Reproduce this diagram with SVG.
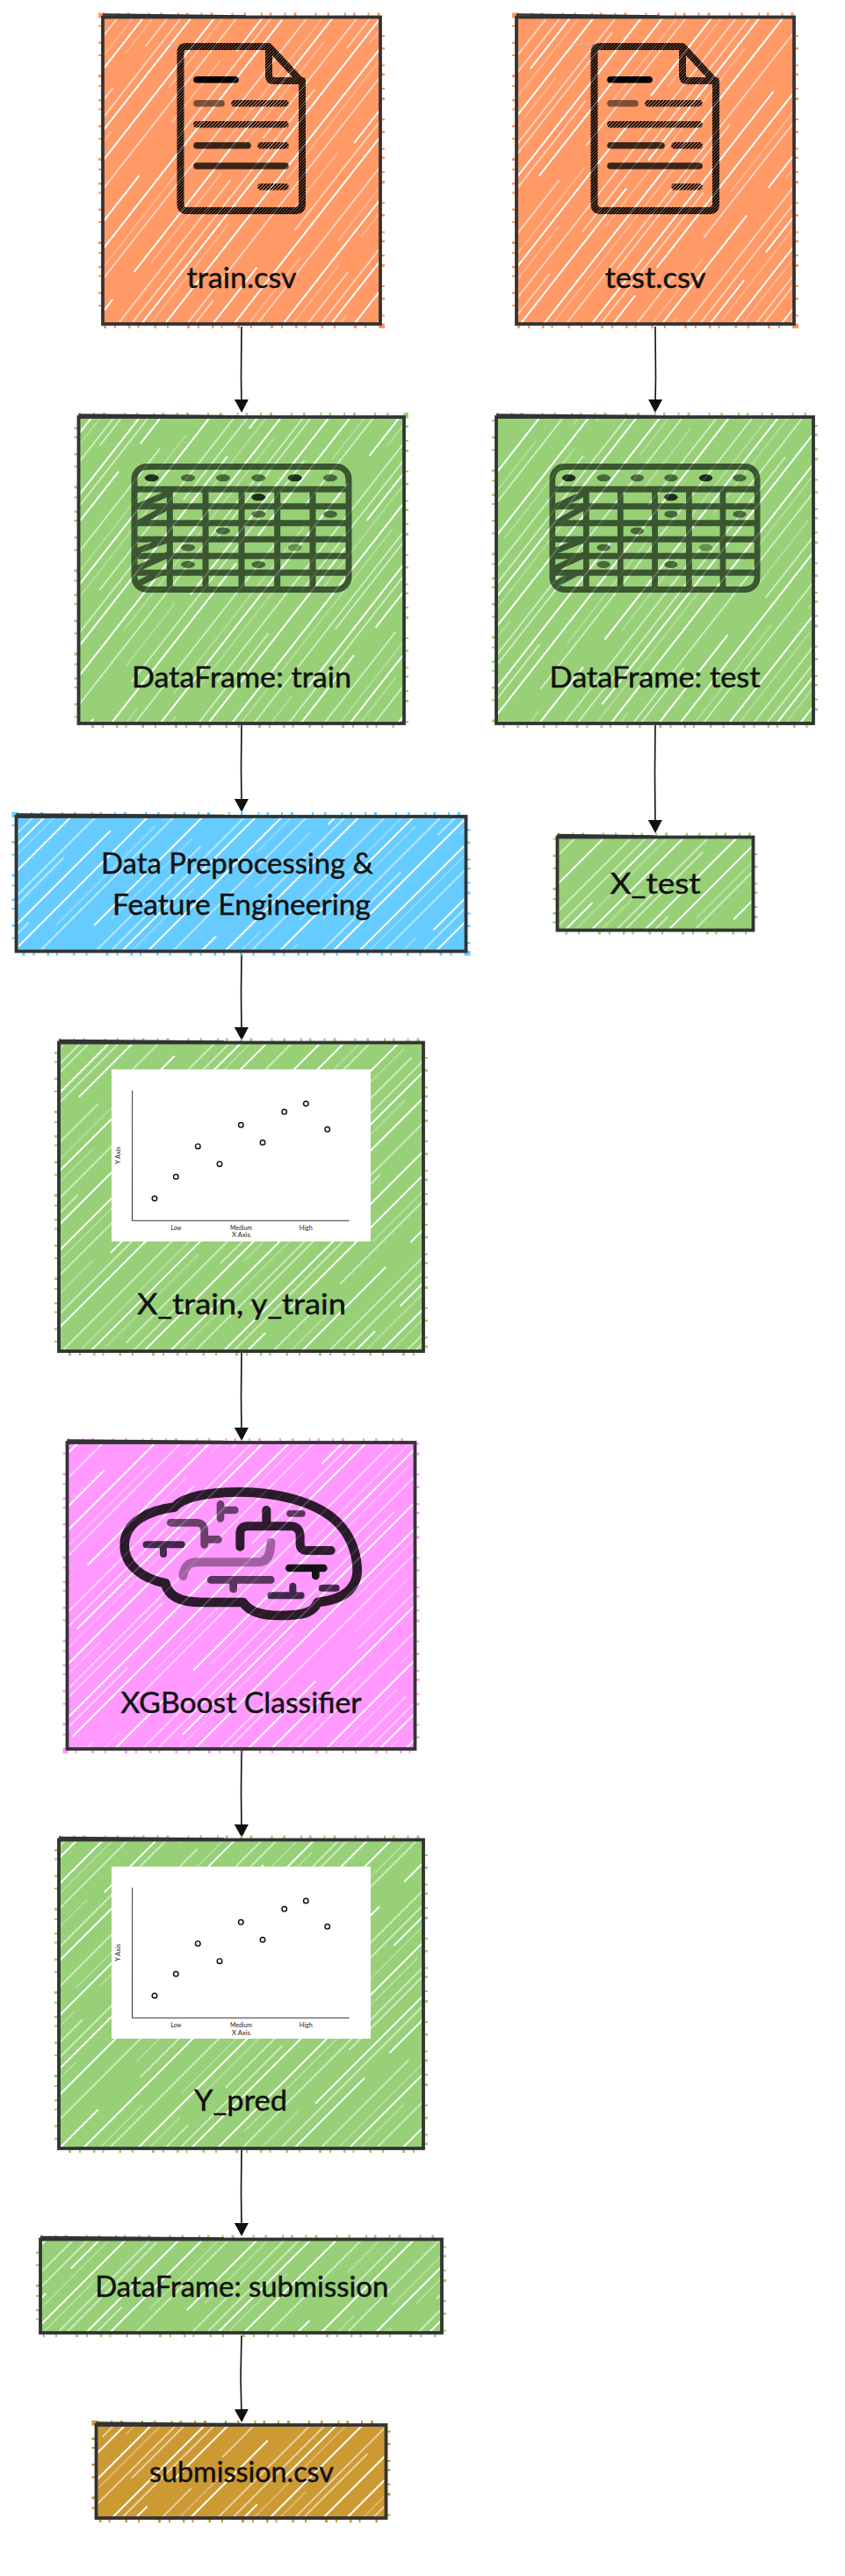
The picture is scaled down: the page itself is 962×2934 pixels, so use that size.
<svg xmlns="http://www.w3.org/2000/svg" width="962" height="2934" viewBox="0 0 962 2934">
<style>
.fo{fill:#FF9966}.fg{fill:#97D077}.fb{fill:#66CCFF}.fp{fill:#FF99FF}.fc{fill:#CC9933}
.so{stroke:#FF9966}.sg{stroke:#97D077}.sb{stroke:#66CCFF}.sp{stroke:#FF99FF}.sc{stroke:#CC9933}
.fz{fill:none;stroke-width:10;stroke-dasharray:2.5 14 2 9 3 21 2 12 2.5 17 2 8}
.bd{fill:none;stroke:#333;stroke-width:3.8}
.wd{fill:none;stroke:#333;stroke-width:2.4}
.lb{font-family:"Lato",sans-serif;font-size:32px;fill:#111;stroke:#111;stroke-width:.45;text-anchor:middle}
.ax{font-family:"Lato",sans-serif;font-size:7px;fill:#222;text-anchor:middle}
.cn{fill:none;stroke:#111;stroke-width:1.6;marker-end:url(#ah)}
.ln{fill:none;stroke:#333;stroke-width:1}
.pt{fill:#FFF2CC;stroke:#111;stroke-width:1.4}
.tb{fill:none;stroke:#3a5530;stroke-width:7}
.dr{fill:none;stroke-linecap:round;stroke-linejoin:round}
</style>
<defs>
<marker id="ah" markerUnits="userSpaceOnUse" markerWidth="15" markerHeight="16" viewBox="0 0 15 16" refX="7" refY="8" orient="auto"><path d="M0 0L15 8L0 16Z" fill="#111"/></marker>
<pattern id="hatch" width="170" height="520" patternUnits="userSpaceOnUse" patternTransform="rotate(45)">
<path fill="none" stroke="#fff" stroke-width="2" d="M14 0V210M14 250V520M35 0V520M78 60V400M97 0V300M97 340V520M141 0V150M141 190V520"/>
<path fill="none" stroke="#fff" stroke-width="1.1" d="M5 0V320M5 380V520M55 0V520M62 120V330M118 0V240M118 290V520M163 0V460M86 200V520"/>
<path fill="none" stroke="#fff" stroke-width=".7" opacity=".8" d="M22 40V300M43 200V480M110 20V180M132 260V500M150 0V130M150 330V480M70 420V510"/>
</pattern>
<pattern id="hatch50" href="#hatch" patternTransform="rotate(38)"/>
<pattern id="dk" width="2.5" height="8" patternUnits="userSpaceOnUse" patternTransform="rotate(45)"><rect width="2" height="8" fill="#000"/></pattern>
<pattern id="md" width="2.8" height="8" patternUnits="userSpaceOnUse" patternTransform="rotate(45)"><rect width="1.9" height="8" fill="#000"/></pattern>
<g id="doc">
<path d="M177 50H202" stroke="#bbb" stroke-width="1" fill="none"/>
<path class="dr" stroke="url(#dk)" stroke-width="8" d="M212 53H306L344 94V232Q344 240 336 240H213Q205.500 240 205.500 232V60Q205.500 53 212 53ZM306 55V86Q306 92 312 92H344"/>
<path class="dr" stroke="#000" stroke-width="7.6" d="M224 90.700H268"/>
<path class="dr" stroke="url(#md)" stroke-width="7.6" d="M267 117.700H325M224 141.700H325M297 165.700H325M297 212.700H325"/>
<path class="dr" stroke="#7a4f35" stroke-width="7.6" d="M224 117.700H252"/>
<path class="dr" stroke="#3a2418" stroke-width="7.6" d="M224 165.700H282M224 189H325"/>
</g>
<g id="table">
<rect class="tb" x="153" y="531.500" width="244" height="140" rx="14"/>
<path class="tb" d="M150 557.300H400M150 576.700H400M150 595.700H400M150 614.300H400M150 633.300H400M150 652.300H400M193.300 557V674M234 557V674M275 557V674M315.700 557V674M356 557V674"/>
<path class="tb" d="M155 578L191 562M155 597L190 578M155 628L190 615M155 648L191 632M153 667L183 652"/>
<g fill="#1f2c19"><ellipse cx="172.700" cy="544.300" rx="8" ry="4"/><ellipse cx="335.700" cy="544.300" rx="8" ry="4"/><ellipse cx="294.300" cy="566.300" rx="8" ry="4"/></g>
<g fill="#47663a"><ellipse cx="214" cy="544.300" rx="8" ry="4"/><ellipse cx="254" cy="544.300" rx="8" ry="4"/><ellipse cx="294.300" cy="544.300" rx="8" ry="4"/><ellipse cx="376" cy="544.300" rx="8" ry="4"/><ellipse cx="294.300" cy="585.700" rx="8" ry="4"/><ellipse cx="376" cy="585.700" rx="8" ry="4"/><ellipse cx="254" cy="604.700" rx="8" ry="4"/><ellipse cx="214" cy="623.700" rx="8" ry="4"/><ellipse cx="214" cy="643" rx="8" ry="4"/><ellipse cx="294.300" cy="643" rx="8" ry="4"/></g>
<ellipse cx="335.700" cy="623.700" rx="8" ry="4" fill="#658f50"/>
</g>
<path id="axes" class="ln" d="M150.700 1242L150.500 1390.300H397.500"/>
</defs>
<g id="connectors">
<path class="cn" d="M275 372L274.500 430L275 462"/>
<path class="cn" d="M746 372L746.500 430L746 462"/>
<path class="cn" d="M275 826L274.500 875L275 917"/>
<path class="cn" d="M746 826L745.500 880L746 941"/>
<path class="cn" d="M275 1086L274.500 1130L275 1177"/>
<path class="cn" d="M275 1541L274.500 1590L275 1633"/>
<path class="cn" d="M275 1994L274.500 2040L275 2085"/>
<path class="cn" d="M275 2449L274.500 2495L275 2539"/>
<path class="cn" d="M275 2660L274 2708L275 2751"/>
</g>
<g id="node-train">
<rect class="fz so" x="117" y="19.500" width="316" height="349.500"/>
<rect class="fo" x="117" y="19.500" width="316" height="349.500"/>
<rect fill="url(#hatch50)" x="119" y="21.500" width="312" height="345.500"/>
<use href="#doc"/>
<rect fill="url(#hatch50)" opacity=".2" x="195" y="45" width="160" height="205"/>
<rect class="bd" x="117" y="19.500" width="316" height="349.500"/>
<path class="wd" d="M117 16.500L280 18.500"/>
<text class="lb" x="275" y="328" textLength="125" lengthAdjust="spacingAndGlyphs">train.csv</text>
</g>
<g id="node-test">
<rect class="fz so" x="588" y="19.500" width="316" height="349.500"/>
<rect class="fo" x="588" y="19.500" width="316" height="349.500"/>
<rect fill="url(#hatch50)" x="590" y="21.500" width="312" height="345.500"/>
<use href="#doc" transform="translate(471 0)"/>
<rect fill="url(#hatch50)" opacity=".2" x="666" y="45" width="160" height="205"/>
<rect class="bd" x="588" y="19.500" width="316" height="349.500"/>
<path class="wd" d="M588 16.500L751 18.500"/>
<text class="lb" x="746" y="328" textLength="115" lengthAdjust="spacingAndGlyphs">test.csv</text>
</g>
<g id="node-df-train">
<rect class="fz sg" x="89.500" y="475" width="370.500" height="349"/>
<rect class="fg" x="89.500" y="475" width="370.500" height="349"/>
<rect fill="url(#hatch50)" x="91.500" y="477" width="366.500" height="345"/>
<use href="#table"/>
<rect fill="url(#hatch50)" opacity=".2" x="146" y="525" width="258" height="154"/>
<rect class="bd" x="89.500" y="475" width="370.500" height="349"/>
<path class="wd" d="M89.500 472.500L270 474"/>
<text class="lb" x="275" y="782.500" textLength="250" lengthAdjust="spacingAndGlyphs">DataFrame: train</text>
</g>
<g id="node-df-test">
<rect class="fz sg" x="565" y="475" width="361" height="349"/>
<rect class="fg" x="565" y="475" width="361" height="349"/>
<rect fill="url(#hatch50)" x="567" y="477" width="357" height="345"/>
<use href="#table" transform="translate(745.500 0) scale(.956 1) translate(-275 0)"/>
<rect fill="url(#hatch50)" opacity=".2" x="622" y="525" width="247" height="154"/>
<rect class="bd" x="565" y="475" width="361" height="349"/>
<path class="wd" d="M565 472.500L745 474"/>
<text class="lb" x="745.500" y="782.500" textLength="240" lengthAdjust="spacingAndGlyphs">DataFrame: test</text>
</g>
<g id="node-preprocess">
<rect class="fz sb" x="18.500" y="930" width="512" height="153.500"/>
<rect class="fb" x="18.500" y="930" width="512" height="153.500"/>
<rect fill="url(#hatch)" x="20.500" y="932" width="508" height="149.500"/>
<rect class="bd" x="18.500" y="930" width="512" height="153.500"/>
<path class="wd" d="M18.500 927.500L270 929"/>
<text class="lb" x="270" y="994.700" textLength="310" lengthAdjust="spacingAndGlyphs">Data Preprocessing &amp;</text>
<text class="lb" x="275" y="1041.600" textLength="294" lengthAdjust="spacingAndGlyphs">Feature Engineering</text>
</g>
<g id="node-x-test">
<rect class="fz sg" x="634.500" y="953.500" width="223" height="106"/>
<rect class="fg" x="634.500" y="953.500" width="223" height="106"/>
<rect fill="url(#hatch)" x="636.500" y="955.500" width="219" height="102"/>
<rect class="bd" x="634.500" y="953.500" width="223" height="106"/>
<path class="wd" d="M634.500 951L745 952.500"/>
<text class="lb" x="746" y="1018" textLength="103" lengthAdjust="spacingAndGlyphs">X_test</text>
</g>
<g id="node-x-train">
<rect class="fz sg" x="67" y="1187.500" width="415" height="351.500"/>
<rect class="fg" x="67" y="1187.500" width="415" height="351.500"/>
<rect fill="url(#hatch)" x="69" y="1189.500" width="411" height="347.500"/>
<rect fill="#fff" x="127" y="1218" width="295" height="196"/>
<use href="#axes"/>
<circle class="pt" cx="176" cy="1365" r="2.800"/><circle class="pt" cx="200.300" cy="1340.300" r="2.800"/><circle class="pt" cx="225.300" cy="1305.700" r="2.800"/><circle class="pt" cx="250" cy="1325.700" r="2.800"/><circle class="pt" cx="274.300" cy="1281.300" r="2.800"/><circle class="pt" cx="299" cy="1301.300" r="2.800"/><circle class="pt" cx="323.700" cy="1266.300" r="2.800"/><circle class="pt" cx="348.300" cy="1257" r="2.800"/><circle class="pt" cx="372.700" cy="1286.300" r="2.800"/>
<text class="ax" x="200.500" y="1400.500" textLength="12" lengthAdjust="spacingAndGlyphs">Low</text>
<text class="ax" x="274.500" y="1400.500" textLength="25" lengthAdjust="spacingAndGlyphs">Medium</text>
<text class="ax" x="348.300" y="1400.500" textLength="15" lengthAdjust="spacingAndGlyphs">High</text>
<text class="ax" x="274.500" y="1409.300" textLength="21" lengthAdjust="spacingAndGlyphs">X Axis</text>
<text class="ax" transform="translate(137 1316) rotate(-90)" textLength="20" lengthAdjust="spacingAndGlyphs">Y Axis</text>
<rect class="bd" x="67" y="1187.500" width="415" height="351.500"/>
<path class="wd" d="M67 1185L270 1186.500"/>
<text class="lb" x="275" y="1497" textLength="238" lengthAdjust="spacingAndGlyphs">X_train, y_train</text>
</g>
<g id="node-xgboost">
<rect class="fz sp" x="76.500" y="1643" width="396" height="349"/>
<rect class="fp" x="76.500" y="1643" width="396" height="349"/>
<rect fill="url(#hatch)" x="78.500" y="1645" width="392" height="345"/>
<g transform="translate(60 1640) scale(.33333)" class="dr">
<path stroke="#2a1a2a" stroke-width="32" d="M415 230C450 190 550 178 640 178C760 178 890 210 960 270C1000 305 1025 350 1035 400C1045 450 1040 480 1020 505C1000 535 950 550 905 555C890 590 860 600 770 600C710 600 670 585 650 555L510 555C450 555 395 540 385 490C310 475 245 430 245 360C245 280 330 240 415 230Z"/>
<path stroke="#6b3f6b" stroke-width="26" d="M403 283H490Q518 283 518 310V358M518 340H565M573 220V268M573 240H622"/>
<path stroke="#2e1a2e" stroke-width="30" d="M640 365V320Q640 295 665 295H810Q845 295 845 330V355Q845 378 870 378H950M730 240V295"/>
<path stroke="#5a3560" stroke-width="22" d="M810 252H852"/>
<path stroke="#41284a" stroke-width="24" d="M320 358H440M378 358V390M745 532H848M820 500V532M920 506H968"/>
<path stroke="#a060a0" stroke-width="30" d="M445 465Q450 420 490 418H700Q745 418 745 350"/>
<path stroke="#5a3560" stroke-width="26" d="M540 478H745M617 478V510"/>
<path stroke="#111" stroke-width="26" d="M808 438H925M898 438V465"/>
</g>
<rect fill="url(#hatch)" opacity=".2" x="130" y="1690" width="290" height="155"/>
<rect class="bd" x="76.500" y="1643" width="396" height="349"/>
<path class="wd" d="M76.500 1640.500L275 1642"/>
<text class="lb" x="274.500" y="1951" textLength="274" lengthAdjust="spacingAndGlyphs">XGBoost Classifier</text>
</g>
<g id="node-y-pred">
<rect class="fz sg" x="67" y="2095.500" width="415" height="351.500"/>
<rect class="fg" x="67" y="2095.500" width="415" height="351.500"/>
<rect fill="url(#hatch)" x="69" y="2097.500" width="411" height="347.500"/>
<rect fill="#fff" x="127" y="2126" width="295" height="196"/>
<use href="#axes" transform="translate(0 908)"/>
<circle class="pt" cx="176" cy="2273" r="2.800"/><circle class="pt" cx="200.300" cy="2248.300" r="2.800"/><circle class="pt" cx="225.300" cy="2213.700" r="2.800"/><circle class="pt" cx="250" cy="2233.700" r="2.800"/><circle class="pt" cx="274.300" cy="2189.300" r="2.800"/><circle class="pt" cx="299" cy="2209.300" r="2.800"/><circle class="pt" cx="323.700" cy="2174.300" r="2.800"/><circle class="pt" cx="348.300" cy="2165" r="2.800"/><circle class="pt" cx="372.700" cy="2194.300" r="2.800"/>
<text class="ax" x="200.500" y="2308.500" textLength="12" lengthAdjust="spacingAndGlyphs">Low</text>
<text class="ax" x="274.500" y="2308.500" textLength="25" lengthAdjust="spacingAndGlyphs">Medium</text>
<text class="ax" x="348.300" y="2308.500" textLength="15" lengthAdjust="spacingAndGlyphs">High</text>
<text class="ax" x="274.500" y="2318.300" textLength="21" lengthAdjust="spacingAndGlyphs">X Axis</text>
<text class="ax" transform="translate(137 2224) rotate(-90)" textLength="20" lengthAdjust="spacingAndGlyphs">Y Axis</text>
<rect class="bd" x="67" y="2095.500" width="415" height="351.500"/>
<path class="wd" d="M67 2093L270 2094.500"/>
<text class="lb" x="274" y="2404" textLength="106" lengthAdjust="spacingAndGlyphs">Y_pred</text>
</g>
<g id="node-df-submission">
<rect class="fz sg" x="46" y="2550.500" width="457" height="106.500"/>
<rect class="fg" x="46" y="2550.500" width="457" height="106.500"/>
<rect fill="url(#hatch)" x="48" y="2552.500" width="453" height="102.500"/>
<rect class="bd" x="46" y="2550.500" width="457" height="106.500"/>
<path class="wd" d="M46 2548L270 2549.500"/>
<text class="lb" x="275.300" y="2616" textLength="334" lengthAdjust="spacingAndGlyphs">DataFrame: submission</text>
</g>
<g id="node-submission-csv">
<rect class="fz sc" x="109.500" y="2762" width="330" height="106"/>
<rect class="fc" x="109.500" y="2762" width="330" height="106"/>
<rect fill="url(#hatch)" x="111.500" y="2764" width="326" height="102"/>
<rect class="bd" x="109.500" y="2762" width="330" height="106"/>
<path class="wd" d="M109.500 2759.500L275 2761"/>
<text class="lb" x="275" y="2826.700" textLength="210" lengthAdjust="spacingAndGlyphs">submission.csv</text>
</g>
</svg>
